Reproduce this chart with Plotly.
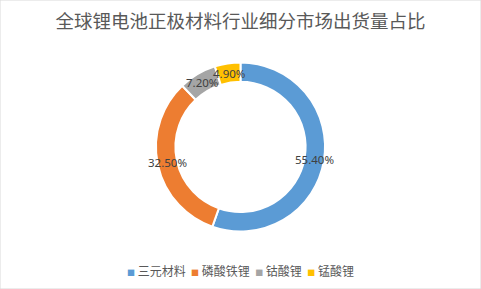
import math
import plotly.graph_objects as go

categories = ["三元材料", "磷酸铁锂", "钴酸锂", "锰酸锂"]
values = [55.4, 32.5, 7.2, 4.9]
labels_text = ["55.40%", "32.50%", "7.20%", "4.90%"]
colors = ["#5B9BD5", "#ED7D31", "#A5A5A5", "#FFC000"]

W, H = 481, 289
dom_y = [0.199, 0.784]
HOLE = 0.77

fig = go.Figure(go.Pie(
    labels=categories,
    values=values,
    textinfo="none",
    hole=HOLE,
    sort=False,
    direction="clockwise",
    rotation=0,
    marker=dict(colors=colors, line=dict(color="white", width=2)),
    domain=dict(x=[0, 1], y=dom_y),
    showlegend=False,
))

# data labels placed at the middle of the ring, at each slice's mid-angle
cx_px = W / 2
cy_px = H * (1 - (dom_y[0] + dom_y[1]) / 2)
r_out = (dom_y[1] - dom_y[0]) * H / 2
r_mid = r_out * (1 + HOLE) / 2
total = sum(values)
annotations = []
cum = 0.0
for v, t in zip(values, labels_text):
    mid = (cum + v / 2) / total * 2 * math.pi
    cum += v
    x_px = cx_px + r_mid * math.sin(mid)
    y_px = cy_px - r_mid * math.cos(mid)
    annotations.append(dict(x=x_px / W, y=1 - y_px / H, xref="paper", yref="paper",
                            text=t, showarrow=False, xanchor="center", yanchor="middle",
                            font=dict(size=11.5, color="#404040", family="Noto Sans")))

# legend line
sep = "&nbsp;&nbsp;"
legend_html = sep.join(
    f"<span style='font-size:8px;color:{c}'>■</span>&nbsp;{n}" for c, n in zip(colors, categories)
)
annotations.append(dict(x=0.5, y=1 - 270 / H, xref="paper", yref="paper", text=legend_html,
                        showarrow=False, xanchor="center", yanchor="middle",
                        font=dict(size=12, color="#595959", family="Noto Sans CJK SC")))

fig.update_layout(
    width=W, height=H,
    margin=dict(l=0, r=0, t=0, b=0),
    paper_bgcolor="white",
    title=dict(text="全球锂电池正极材料行业细分市场出货量占比", x=0.5, xanchor="center",
               y=1 - 21.5 / H, yanchor="middle",
               font=dict(size=18.5, color="#595959", family="Noto Sans CJK SC")),
    annotations=annotations,
    shapes=[dict(type="rect", xref="paper", yref="paper", x0=0, y0=0, x1=1, y1=1,
                 line=dict(color="#D9D9D9", width=1))],
)

fig.write_html("out.html")
